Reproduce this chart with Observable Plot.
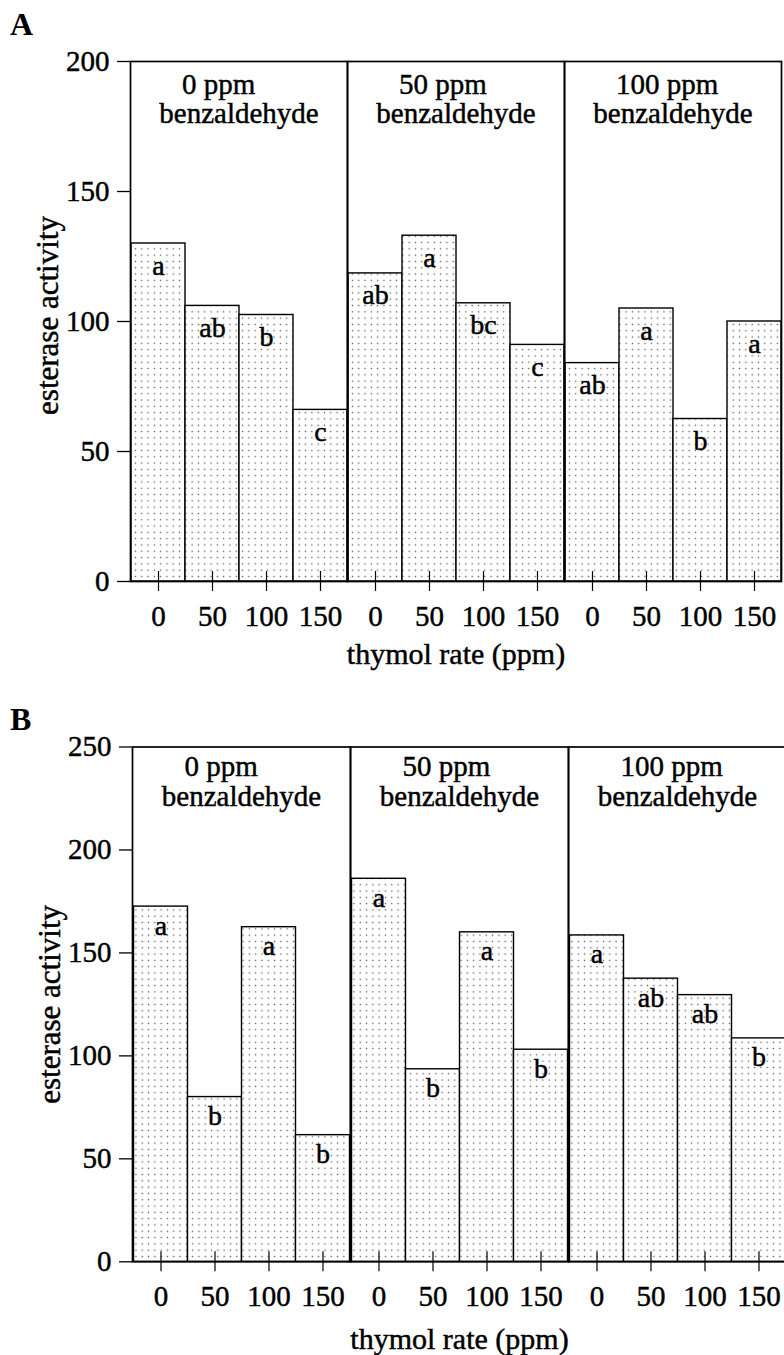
<!DOCTYPE html>
<html><head><meta charset="utf-8">
<script src="https://cdn.jsdelivr.net/npm/d3@7"></script>
<script src="https://cdn.jsdelivr.net/npm/@observablehq/plot@0.6"></script>
<style>
html,body{margin:0;padding:0;background:#fff;overflow:hidden;}
#wrap{position:relative;width:784px;height:1355px;overflow:hidden;font-family:"Liberation Serif",serif;background:#fff;}
.panel{position:absolute;left:0;}
.panel svg, .panel svg text{font-family:"Liberation Serif",serif !important;}
.panel svg text{stroke:black;stroke-width:0.45px;}
.letter{position:absolute;left:10px;font-weight:bold;font-size:32px;line-height:1;font-family:"Liberation Serif",serif;}
</style></head><body>
<div id="wrap">
<div class="panel" id="pa" style="top:0"></div>
<div class="panel" id="pb" style="top:680px"></div>
<div class="letter" style="top:8px">A</div>
<div class="letter" style="top:703px">B</div>
</div>
<script>
const benzLevels = ["0", "50", "100"];
const thymolRates = ["0", "50", "100", "150"];
const esteraseA = [130, 106, 102.5, 66, 118.5, 133, 107, 91, 84, 105, 62.5, 100];
const lettersA = ["a", "ab", "b", "c", "ab", "a", "bc", "c", "ab", "a", "b", "a"];
const esteraseB = [172.5, 80, 162.5, 61.5, 186, 93.5, 160, 103, 158.5, 137.5, 129.5, 108.5];
const lettersB = ["a", "b", "a", "b", "a", "b", "a", "b", "a", "ab", "ab", "b"];
const yTicksA = [0, 50, 100, 150, 200];
const yTicksB = [0, 50, 100, 150, 200, 250];
const yLabel = "esterase activity";
const xLabel = "thymol rate (ppm)";
const FONT = '"Liberation Serif", serif';

function rows(values, letters) {
  return values.map((v, i) => ({
    benz: benzLevels[Math.floor(i / thymolRates.length)],
    rate: thymolRates[i % thymolRates.length],
    value: v,
    letter: letters[i]
  }));
}

function panel(data, yTicks, o) {
  const svg = Plot.plot({
    width: o.width, height: o.height,
    marginTop: o.mt, marginBottom: o.mb, marginLeft: o.ml, marginRight: o.mr,
    style: {fontFamily: FONT, background: "white", maxWidth: "none", overflow: "visible", color: "black"},
    fx: {domain: benzLevels, padding: 0, axis: null},
    x: {domain: thymolRates, padding: 0},
    y: {domain: [yTicks[0], yTicks[yTicks.length - 1]]},
    marks: [
      Plot.barY(data, {fx: "benz", x: "rate", y: "value", fill: `url(#${o.pid})`, stroke: "black", strokeWidth: 1.4, inset: 0}),
      Plot.frame({stroke: "black", strokeWidth: 1.7}),
      Plot.axisY({ticks: yTicks, tickSize: 13, tickPadding: 8, fontSize: 29, fontFamily: FONT, label: null, strokeWidth: 1.3}),
      Plot.axisX({tickSize: 20, dy: -10, tickPadding: 14, fontSize: 29, fontFamily: FONT, label: null, strokeWidth: 1.2}),
      Plot.text(data, {fx: "benz", x: "rate", y: "value", text: "letter", dy: o.letterDy, lineAnchor: "bottom", fontSize: 28, fontFamily: FONT}),
      Plot.text(benzLevels, {fx: d => d, frameAnchor: "top", text: d => `${d} ppm`, textAnchor: "start", dx: -57, dy: o.l1, lineAnchor: "top", fontSize: 29, fontFamily: FONT}),
      Plot.text(benzLevels, {fx: d => d, frameAnchor: "top", text: () => "benzaldehyde", textAnchor: "middle", dy: o.l2, lineAnchor: "top", fontSize: 29, fontFamily: FONT, letterSpacing: "0.6px"}),
      Plot.text([yLabel], {fx: () => benzLevels[0], frameAnchor: "left", rotate: -90, textAnchor: "middle", dx: -73, dy: o.ylDy, lineAnchor: "bottom", fontSize: 31, fontFamily: FONT}),
      Plot.text([xLabel], {fx: () => benzLevels[1], frameAnchor: "bottom", textAnchor: "middle", dy: o.titleDy, lineAnchor: "bottom", fontSize: 30, fontFamily: FONT})
    ]
  });
  const s = 6.3;
  const pat = d3.select(svg).insert("defs", ":first-child")
    .append("pattern").attr("id", o.pid).attr("patternUnits", "userSpaceOnUse")
    .attr("width", s).attr("height", s);
  pat.append("rect").attr("width", s).attr("height", s).attr("fill", "white");
  pat.append("rect").attr("x", 2.5).attr("y", 2.5).attr("width", 1.3).attr("height", 1.3).attr("fill", "#555");
  svg.style.maxWidth = "none";
  svg.style.fontFamily = FONT;
  return svg;
}

document.getElementById("pa").append(panel(rows(esteraseA, lettersA), yTicksA, {
  pid: "dotsA", width: 784, height: 680, mt: 61, mb: 99, ml: 130, mr: 3,
  letterDy: 31, l1: 12, l2: 41, titleDy: 82, ylDy: -6
}));
document.getElementById("pb").append(panel(rows(esteraseB, lettersB), yTicksB, {
  pid: "dotsB", width: 790, height: 675, mt: 66.5, mb: 93.7, ml: 131.5, mr: 3,
  letterDy: 28, l1: 8.6, l2: 38.6, titleDy: 87, ylDy: 0
}));
</script>
</body></html>
